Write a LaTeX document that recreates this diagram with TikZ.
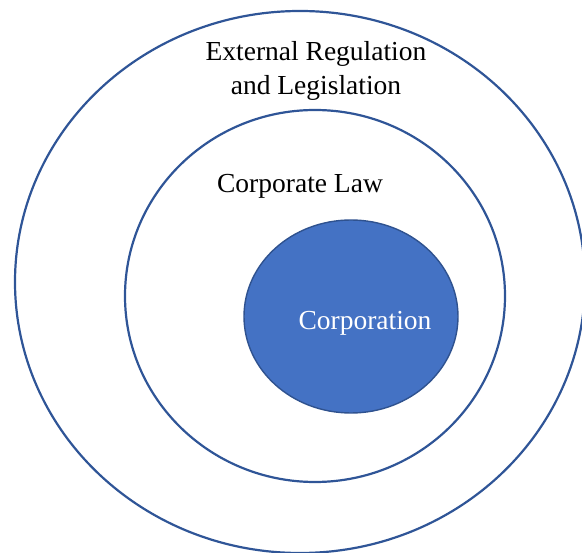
\documentclass[tikz,border=0pt]{standalone}
\usepackage{fontspec}
\setmainfont{Liberation Serif}
\newfontfamily\tnr{Liberation Serif}
\definecolor{ringblue}{HTML}{2F5597}
\definecolor{fillblue}{HTML}{4472C4}
\definecolor{edgeblue}{HTML}{2F528F}
\begin{document}
\begin{tikzpicture}[x=1pt,y=-1pt,
  ring/.style={draw=ringblue,line width=2.2pt},
  lbl/.style={anchor=base,inner sep=0pt,font=\tnr\fontsize{27.5}{34}\selectfont,align=center}]
\useasboundingbox (0,0) rectangle (582,553);
\draw[ring] (300,282) ellipse [x radius=285, y radius=271];
\draw[ring] (315,296) ellipse [x radius=190, y radius=186];
\filldraw[fill=fillblue,draw=edgeblue,line width=1.4pt] (351,316.5) ellipse [x radius=107, y radius=96.5];
\node[lbl] (ext) at (316,61) {External Regulation};
\node[lbl] (leg) at (316,95) {and Legislation};
\node[lbl] (law) at (300,193) {Corporate Law};
\node[lbl,text=white] (corp) at (365,330) {Corporation};
\end{tikzpicture}
\end{document}
